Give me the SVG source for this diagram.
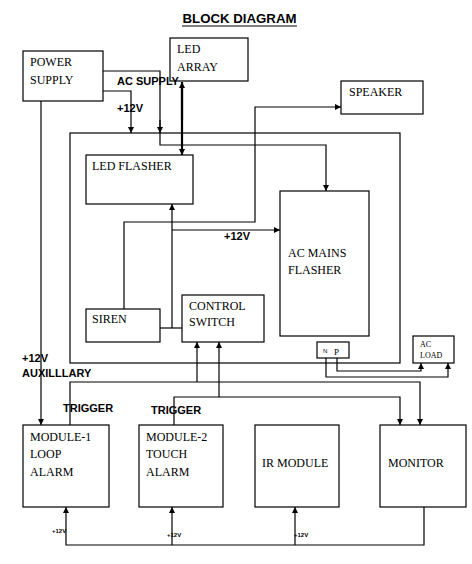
<svg xmlns="http://www.w3.org/2000/svg" width="472" height="564" viewBox="0 0 472 564">
<style>
.box{fill:#fff;stroke:#000;stroke-width:1.2}
.t{font-family:"Liberation Serif",serif;font-size:12px;fill:#000}
.s{font-family:"Liberation Serif",serif;font-size:9px;fill:#000}
.b{font-family:"Liberation Sans",sans-serif;font-weight:bold;font-size:11px;fill:#000}
.tiny{font-family:"Liberation Sans",sans-serif;font-weight:bold;font-size:6px;fill:#000}
.c{fill:none;stroke:#000;stroke-width:1.2}
.thick{fill:none;stroke:#000;stroke-width:2.2}
</style>
<defs>
<marker id="a" viewBox="0 0 10 10" refX="10" refY="5" markerWidth="6" markerHeight="6" orient="auto" markerUnits="userSpaceOnUse"><path d="M0,0L10,5L0,10z" fill="#000"/></marker>
</defs>
<rect width="472" height="564" fill="#fff"/>
<g id="title">
<text x="239.5" y="23" text-anchor="middle" font-family="Liberation Sans,sans-serif" font-weight="bold" font-size="13" textLength="114" lengthAdjust="spacingAndGlyphs">BLOCK DIAGRAM</text>
<line x1="182" y1="26" x2="297" y2="26" stroke="#000" stroke-width="1"/>
</g>
<g id="outer"><rect class="box" x="70" y="133" width="330" height="230" fill="none" style="fill:none"/></g>
<g id="connectors">
<!-- AC supply -->
<polyline class="c" points="103,71 160,71 160,145 326,145 326,191" marker-end="url(#a)"/>
<line class="c" x1="160" y1="120" x2="160" y2="133" marker-end="url(#a)"/>
<!-- +12V -->
<polyline class="c" points="103,91 131,91 131,133" marker-end="url(#a)"/>
<!-- LED array <-> flasher -->
<line class="thick" x1="182" y1="88" x2="182" y2="155" marker-end="url(#a)"/>
<line class="thick" x1="182" y1="120" x2="182" y2="82" marker-end="url(#a)"/>
<!-- speaker -->
<polyline class="c" points="124,309 124,222 255,222 255,107 341,107" marker-end="url(#a)"/>
<!-- control to LED flasher -->
<polyline class="c" points="172,328 172,204" marker-end="url(#a)"/>
<line class="c" x1="172" y1="230" x2="280" y2="230" marker-end="url(#a)"/>
<line class="c" x1="160" y1="328" x2="182" y2="328"/>
<!-- NP to AC load -->
<polyline class="c" points="326,358 326,377 448,377 448,363" marker-end="url(#a)"/>
<polyline class="c" points="337,358 337,371 421,371 421,363" marker-end="url(#a)"/>
<!-- power to module-1 -->
<polyline class="c" points="41,101 41,425" marker-end="url(#a)"/>
<!-- triggers -->
<polyline class="c" points="70,425 70,382 420,382 420,425" marker-end="url(#a)"/>
<line class="c" x1="197" y1="382" x2="197" y2="342" marker-end="url(#a)"/>
<polyline class="c" points="174,425 174,397 400,397 400,425" marker-end="url(#a)"/>
<line class="c" x1="219" y1="397" x2="219" y2="342" marker-end="url(#a)"/>
<!-- bottom +12V bus -->
<polyline class="c" points="424,507 424,545 66,545 66,507" marker-end="url(#a)"/>
<line class="c" x1="172" y1="545" x2="172" y2="507" marker-end="url(#a)"/>
<line class="c" x1="295" y1="545" x2="295" y2="507" marker-end="url(#a)"/>
</g>
<g id="power-supply"><rect class="box" x="23" y="51" width="80" height="50"/><text class="t" x="30" y="66">POWER</text><text class="t" x="30" y="84">SUPPLY</text></g>
<g id="led-array"><rect class="box" x="170" y="38" width="78" height="43"/><text class="t" x="177" y="53">LED</text><text class="t" x="177" y="71">ARRAY</text></g>
<g id="speaker"><rect class="box" x="341" y="81" width="82" height="33"/><text class="t" x="349" y="96">SPEAKER</text></g>
<g id="led-flasher"><rect class="box" x="86" y="155" width="107" height="49"/><text class="t" x="92" y="170">LED FLASHER</text></g>
<g id="ac-mains-flasher"><rect class="box" x="280" y="191" width="89" height="145"/><text class="t" x="288" y="257">AC MAINS</text><text class="t" x="288" y="274">FLASHER</text></g>
<g id="siren"><rect class="box" x="86" y="309" width="74" height="33"/><text class="t" x="92" y="323">SIREN</text></g>
<g id="control-switch"><rect class="box" x="182" y="295" width="82" height="47"/><text class="t" x="189" y="310">CONTROL</text><text class="t" x="189" y="326">SWITCH</text></g>
<g id="np"><rect class="box" x="317" y="342" width="32" height="16"/><text class="tiny" x="323" y="353" style="font-weight:normal">N</text><text class="s" x="334" y="355" font-family="Liberation Sans,sans-serif">P</text></g>
<g id="ac-load"><rect class="box" x="413" y="336" width="41" height="27"/><text class="s" x="420" y="347" style="font-size:8px">AC</text><text class="s" x="420" y="358" style="font-size:8px">LOAD</text></g>
<g id="module-1"><rect class="box" x="23" y="425" width="86" height="82"/><text class="t" x="30" y="441">MODULE-1</text><text class="t" x="30" y="458">LOOP</text><text class="t" x="30" y="476">ALARM</text></g>
<g id="module-2"><rect class="box" x="139" y="425" width="84" height="82"/><text class="t" x="146" y="441">MODULE-2</text><text class="t" x="146" y="458">TOUCH</text><text class="t" x="146" y="476">ALARM</text></g>
<g id="ir-module"><rect class="box" x="255" y="425" width="84" height="82"/><text class="t" x="262" y="467">IR MODULE</text></g>
<g id="monitor"><rect class="box" x="380" y="425" width="86" height="82"/><text class="t" x="388" y="467">MONITOR</text></g>
<g id="labels">
<text class="b" x="117" y="85">AC SUPPLY</text>
<text class="b" x="117" y="112">+12V</text>
<text class="b" x="224" y="240">+12V</text>
<text class="b" x="22" y="362">+12V</text>
<text class="b" x="22" y="377">AUXILLLARY</text>
<text class="b" x="63" y="412">TRIGGER</text>
<text class="b" x="151" y="414">TRIGGER</text>
<text class="tiny" x="52" y="533">+12V</text>
<text class="tiny" x="167" y="537">+12V</text>
<text class="tiny" x="294" y="537">+12V</text>
</g>
</svg>
